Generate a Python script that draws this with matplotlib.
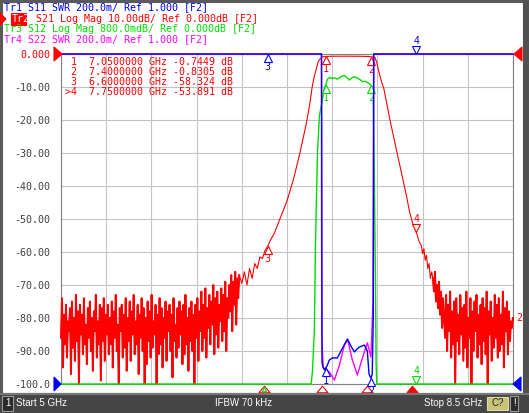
import numpy as np
import matplotlib.pyplot as plt
from matplotlib.patches import Rectangle, Polygon
from matplotlib.path import Path
from matplotlib.transforms import offset_copy, blended_transform_factory

# ---- sweep / scale settings
f_start, f_stop = 5.0, 8.5
s21_ref, s21_div = 0.0, 10.0      # dB
s12_ref, s12_div = 0.0, 0.8       # dB
swr_ref, swr_div = 1.0, 0.2

# ---- S21 (Tr2) : noise floor left, skirts + passband, noise floor right
noise_left_db = [
    -86, -74, -95, -79, -88, -76, -92, -81, -84, -77,
    -97, -75, -89, -80, -93, -73, -87, -78, -100, -76,
    -85, -79, -91, -74, -88, -82, -94, -77, -86, -75,
    -90, -80, -96, -78, -84, -73, -92, -81, -88, -76,
    -99, -77, -87, -74, -93, -79, -85, -76, -91, -80,
    -88, -75, -95, -78, -86, -73, -90, -82, -100, -77,
    -84, -76, -92, -79, -89, -74, -96, -80, -87, -75,
    -93, -78, -85, -73, -91, -81, -88, -76, -97, -79,
    -86, -74, -90, -77, -100, -80, -94, -75, -87, -78,
    -92, -73, -89, -81, -85, -76, -100, -79, -91, -74,
    -88, -77, -95, -80, -86, -75, -93, -78, -84, -76,
    -90, -79, -98, -74, -87, -82, -92, -77, -89, -75,
    -85, -78, -94, -76, -91, -73, -88, -80, -96, -77,
    -87, -75, -90, -79, -100, -76, -86, -74, -93, -78,
    -84, -72, -90, -76, -86, -71, -92, -77, -83, -73,
    -88, -75, -82, -70, -91, -74, -85, -72, -89, -76,
    -81, -71, -87, -73, -84, -69, -90, -74, -80, -70,
    -78, -67, -84, -69, -76, -66, -82, -68, -74, -67,
]
s21_mid_freq = [6.40, 6.42, 6.44, 6.46, 6.48, 6.50, 6.52, 6.54, 6.56, 6.58,
                6.60, 6.62, 6.65, 6.70, 6.75, 6.80, 6.85, 6.90, 6.925, 6.945,
                6.96, 6.975, 6.99, 7.00, 7.02, 7.05, 7.10, 7.20, 7.30, 7.38,
                7.40, 7.43, 7.445, 7.465, 7.485, 7.50, 7.525, 7.55, 7.575, 7.60,
                7.625, 7.65, 7.675, 7.70, 7.725, 7.75, 7.775, 7.79, 7.80, 7.81,
                7.82, 7.83, 7.84, 7.85, 7.86, 7.87]
s21_mid_db = [-69.5, -66, -70, -65, -68, -63.5, -65, -61.5, -62, -59.5,
              -58.32, -56.5, -54.5, -49.5, -44.5, -38, -30, -21, -15.5, -10,
              -7, -4.8, -2.6, -1.8, -0.9, -0.745, -0.68, -0.66, -0.68, -0.75,
              -0.83, -1.0, -2.5, -6.0, -8.8, -10.5, -15.5, -20.5, -25, -29.5,
              -34, -38.5, -43, -48, -51.5, -53.89, -57, -58, -60.5, -59,
              -62.5, -61, -65, -63.5, -68, -66]
noise_right_db = [
    -68, -72, -66, -75, -70, -77, -69, -79, -72, -83, -74, -80,
    -86, -73, -90, -76, -84, -72, -92, -78, -88, -75,
    -100, -74, -87, -79, -91, -73, -85, -77, -93, -76,
    -89, -72, -95, -80, -86, -74, -100, -78, -90, -75,
    -84, -73, -92, -79, -88, -76, -94, -74, -87, -77,
    -91, -72, -100, -78, -85, -75, -93, -80, -89, -73,
    -86, -76, -92, -74, -90, -79, -88, -72, -95, -77,
    -84, -75, -91, -78, -87, -81, -83, -80,
]
noise_left_freq = np.linspace(5.0, 6.38, len(noise_left_db))
noise_right_freq = np.linspace(7.88, 8.5, len(noise_right_db))

# ---- S12 (Tr3)
s12_freq = [5.0, 6.93, 6.937, 6.947, 6.962, 6.970, 6.978, 6.986, 7.001, 7.024,
            7.040, 7.05, 7.063, 7.082, 7.102, 7.12, 7.140, 7.169, 7.194, 7.213,
            7.233, 7.252, 7.272, 7.292, 7.311, 7.334, 7.353, 7.372, 7.388, 7.400,
            7.412, 7.418, 7.422, 7.428, 7.435, 7.440, 7.445, 8.5]
s12_db = [-40, -9.0, -8.0, -7.7, -6.7, -4.75, -3.5, -2.4, -1.5, -1.1,
          -0.82, -0.75, -0.61, -0.57, -0.59, -0.58, -0.61, -0.55, -0.52, -0.57,
          -0.63, -0.58, -0.55, -0.58, -0.61, -0.67, -0.66, -0.69, -0.72, -0.75,
          -0.80, -0.95, -2.0, -3.5, -5.5, -7.5, -8.5, -40]

# ---- S11 (Tr1) and S22 (Tr4) SWR
s11_freq = [5.0, 7.018, 7.021, 7.03, 7.04, 7.06, 7.078, 7.10, 7.14, 7.18,
            7.218, 7.245, 7.272, 7.29, 7.311, 7.349, 7.372, 7.385, 7.40, 7.41,
            7.418, 7.422, 8.5]
s11_swr = [80, 80, 1.13, 1.10, 1.085, 1.11, 1.145, 1.158, 1.158, 1.218,
           1.273, 1.23, 1.194, 1.21, 1.224, 1.236, 1.20, 1.06, 1.035, 1.06,
           1.4, 80, 80]
s22_freq = [5.0, 7.016, 7.019, 7.03, 7.05, 7.078, 7.117, 7.156, 7.194, 7.22,
            7.256, 7.295, 7.334, 7.372, 7.40, 7.416, 7.421, 8.5]
s22_swr = [80, 80, 1.3, 1.10, 1.09, 1.073, 1.024, 1.115, 1.236, 1.267,
           1.145, 1.055, 1.158, 1.25, 1.164, 1.5, 80, 80]

# ---- markers
marker_freq = [7.05, 7.40, 6.60, 7.75]
marker_s21 = [-0.7449, -0.8305, -58.324, -53.891]
active_marker = 4

RED, GREEN, BLUE, MAG = '#ff0000', '#00dc00', '#0000ff', '#ff00ff'
MONO = 'DejaVu Sans Mono'
FS = 7.2

W, H = 529, 413
fig = plt.figure(figsize=(W / 100, H / 100), dpi=100)
fig.patch.set_facecolor('white')


def fx(x):
    return x / W


def fy(y):
    return 1 - y / H


def poly(pts, color, fill=True, lw=0.8):
    fig.patches.append(Polygon([(fx(x), fy(y)) for x, y in pts], closed=True,
                               transform=fig.transFigure, fill=fill,
                               facecolor=color if fill else 'none',
                               edgecolor=color, lw=lw, zorder=20))


def rect(x0, y0, x1, y1, fc, ec=None, lw=0.8):
    fig.patches.append(Rectangle((fx(x0), fy(y1)), fx(x1 - x0), (y1 - y0) / H,
                                 transform=fig.transFigure, facecolor=fc,
                                 edgecolor=ec if ec else fc, lw=lw, zorder=0))


# frame pieces of the analyser window
rect(0, 0, 529, 2, '#5a5a5a')
rect(0, 0, 2, 393, '#5a5a5a')
rect(523, 0, 529, 393, '#505050')
rect(0, 393, 529, 413, '#454545')
rect(0, 393, 529, 394, '#777777')

pos = [fx(61), fy(384), (513 - 61) / W, (384 - 54) / H]
ax = fig.add_axes(pos)
ax.set_xlim(f_start, f_stop)
ax.set_ylim(s21_ref - 10 * s21_div, s21_ref)
ax.set_xticks(np.linspace(f_start, f_stop, 11))
yt = np.arange(-100, 1, 10)
ax.set_yticks(yt)
ylab = ['%.1f' % v if v == -100 else ('%.2f' % v if v != 0 else '0.000') for v in yt]
ax.set_yticklabels(ylab, family=MONO, fontsize=FS)
ax.tick_params(length=0, pad=8, labelbottom=False, colors='#404040')
ax.get_yticklabels()[-1].set_color(RED)
ax.grid(color='#c4c4c4', lw=0.8)
ax.set_axisbelow(True)
for s in ax.spines.values():
    s.set_color('#808080')
    s.set_linewidth(0.8)


def overlay(ylim):
    a = fig.add_axes(pos)
    a.set_xlim(f_start, f_stop)
    a.set_ylim(*ylim)
    a.axis('off')
    return a


ax_g = overlay((s12_ref - 10 * s12_div, s12_ref))
ax_m = overlay((swr_ref, swr_ref + 10 * swr_div))
ax_b = overlay((swr_ref, swr_ref + 10 * swr_div))

# ---- traces (values beyond the grid are pinned to the edge like on the analyser)
s21_freq = np.concatenate([noise_left_freq, s21_mid_freq, noise_right_freq])
s21_db = np.concatenate([noise_left_db, s21_mid_db, noise_right_db])
ax.plot(s21_freq, np.clip(s21_db, -100, 0), color=RED, lw=0.8, clip_on=False, zorder=3)
# the noise floor is drawn a bit heavier so it fills like the dense sweep
ax.plot(noise_left_freq, np.clip(noise_left_db, -100, 0), color=RED, lw=1.4,
        clip_on=False, zorder=3)
ax.plot(noise_right_freq, np.clip(noise_right_db, -100, 0), color=RED, lw=1.4,
        clip_on=False, zorder=3)
ax_g.plot(s12_freq, np.clip(s12_db, -8, 0), color=GREEN, lw=1.0, clip_on=False)
ax_m.plot(s22_freq, np.clip(s22_swr, 1, 3), color=MAG, lw=1.0, clip_on=False)
ax_b.plot(s11_freq, np.clip(s11_swr, 1, 3), color=BLUE, lw=1.0, clip_on=False)


def marker(a, f, v, color, label, up=True):
    dy = -4 if up else 4
    tr = offset_copy(a.transData, fig=fig, x=0, y=dy, units='dots')
    a.plot([f], [v], marker='^' if up else 'v', ms=5.5, mfc='white', mec=color,
           mew=0.8, transform=tr, clip_on=False, zorder=6)
    a.annotate(label, xy=(f, v), xytext=(0, -13 if up else 13), textcoords='offset pixels',
               ha='center', va='center', color=color, fontsize=FS, family=MONO,
               annotation_clip=False, zorder=6)


for i, (f, v) in enumerate(zip(marker_freq, marker_s21)):
    n = i + 1
    up = n != 4
    marker(ax, f, v, RED, str(n), up)
    g = float(np.clip(np.interp(f, s12_freq, s12_db), -8, 0))
    if n != 3:
        marker(ax_g, f, g, GREEN, str(n), up)
    b = float(np.clip(np.interp(f, s11_freq, s11_swr), 1, 3))
    marker(ax_b, f, b, BLUE, str(n), up)

# stimulus indicators under the grid
btr = offset_copy(blended_transform_factory(ax.transData, ax.transAxes), fig=fig,
                  x=-4, y=-5, units='dots')
wide_tri = Path([(-1.7, -1), (1.7, -1), (0, 1), (-1.7, -1)])
for i, f in enumerate(marker_freq):
    n = i + 1
    ax.plot([f], [0], marker=wide_tri, ms=8.0, transform=btr, clip_on=False,
            mfc=RED if n == active_marker else 'white', mec=RED, mew=0.8, zorder=7)
ax.plot([marker_freq[2]], [0], marker='^', ms=3.2, transform=btr, clip_on=False,
        mfc='white', mec=GREEN, mew=0.8, zorder=8)

# reference position arrows
poly([(54, 47), (62, 54), (54, 61)], RED)
poly([(54, 377), (61, 384), (54, 391)], BLUE)
poly([(522, 47), (514, 54), (522, 61)], RED)
poly([(521, 377), (513, 384), (521, 391)], BLUE)

# ---- marker table
tab = []
for i, (f, v) in enumerate(zip(marker_freq, marker_s21)):
    n = i + 1
    tag = ('>%d' if n == active_marker else ' %d') % n
    tab.append('%s  %.7f GHz %s dB' % (tag, f, format(v, '.5g')))
for i, line in enumerate(tab):
    fig.text(fx(65), fy(61.7 + 10.2 * i), line, color=RED, family=MONO,
             fontsize=FS, va='center', ha='left')

# ---- trace headers
fig.text(fx(4), fy(7.3), 'Tr1 S11 SWR 200.0m/ Ref 1.000 [F2]', color=BLUE,
         family=MONO, fontsize=FS, va='center')
poly([(0, 13), (6, 19), (0, 25)], RED)
rect(11, 13, 26, 25, RED)
fig.text(fx(12), fy(19), 'Tr2', color='white', family=MONO, fontsize=FS,
         va='center', zorder=25)
fig.text(fx(36), fy(19), 'S21 Log Mag 10.00dB/ Ref 0.000dB [F2]', color=RED,
         family=MONO, fontsize=FS, va='center')
fig.text(fx(4), fy(29.3), 'Tr3 S12 Log Mag 800.0mdB/ Ref 0.000dB [F2]', color=GREEN,
         family=MONO, fontsize=FS, va='center')
fig.text(fx(4), fy(39.3), 'Tr4 S22 SWR 200.0m/ Ref 1.000 [F2]', color=MAG,
         family=MONO, fontsize=FS, va='center')

# trace number at right end
ax.annotate('2', xy=(f_stop, s21_db[-1]), xytext=(6, 0), textcoords='offset pixels',
            color=RED, family=MONO, fontsize=FS, va='center', ha='center',
            annotation_clip=False)

# ---- status bar
SANS = 'Liberation Sans'
rect(2, 396, 13, 411, '#2a2a2a', '#9a9a9a')
fig.text(fx(7.5), fy(403.5), '1', color='white', family=SANS, fontsize=7, ha='center', va='center')
fig.text(fx(16), fy(403.5), 'Start 5 GHz', color='white', family=SANS, fontsize=7, va='center')
fig.text(fx(244), fy(403.5), 'IFBW 70 kHz', color='white', family=SANS, fontsize=7,
         ha='center', va='center')
fig.text(fx(482), fy(403.5), 'Stop 8.5 GHz', color='white', family=SANS, fontsize=7,
         ha='right', va='center')
rect(487, 397, 508, 410, '#c8c47a', '#e0dca0')
fig.text(fx(497.5), fy(403.5), 'C?', color='#202020', family=SANS, fontsize=7,
         ha='center', va='center')
rect(510, 396, 518, 411, '#2a2a2a', '#9a9a9a')
fig.text(fx(514), fy(403.5), '!', color='white', family=SANS, fontsize=7,
         ha='center', va='center')

fig.savefig('out.png', dpi=100)
